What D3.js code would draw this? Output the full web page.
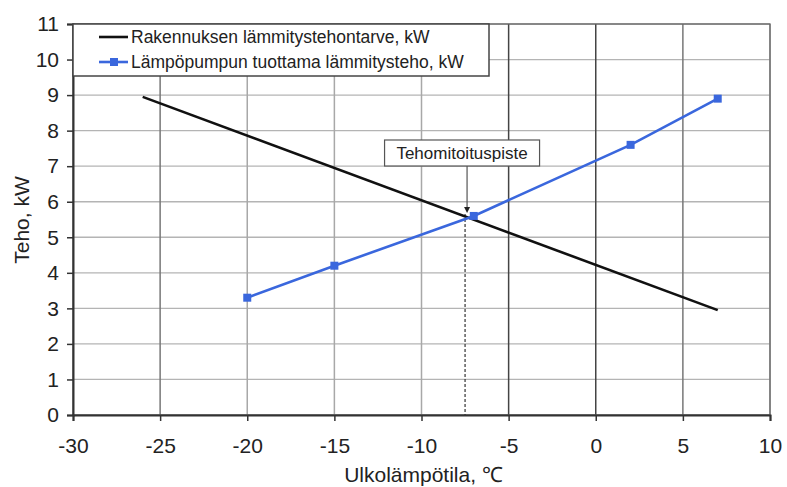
<!DOCTYPE html>
<html><head><meta charset="utf-8">
<script src="https://cdn.jsdelivr.net/npm/d3@7"></script>
<style>
body{margin:0;background:#fff;}
svg{display:block;font-family:"Liberation Sans",Arial,sans-serif;}
</style></head>
<body><svg id="c" width="787" height="487"></svg>
<script>
// Data
const demandTemps = [-26, 7];
const demandValues = [8.95, 2.95];
const pumpTemps = [-20, -15, -7, 2, 7];
const pumpValues = [3.3, 4.2, 5.6, 7.6, 8.9];
const xTicks = [-30, -25, -20, -15, -10, -5, 0, 5, 10];
const yTicks = [0, 1, 2, 3, 4, 5, 6, 7, 8, 9, 10, 11];
const seriesNames = ["Rakennuksen lämmitystehontarve, kW", "Lämpöpumpun tuottama lämmitysteho, kW"];
const designPoint = {x: -7.5, y: 5.6, label: "Tehomitoituspiste"};
const xTitle = "Ulkolämpötila, ℃";
const yTitle = "Teho, kW";

const svg = d3.select("#c");
const L = 73, R = 770, T = 24, B = 415;
const x = d3.scaleLinear().domain([-30, 10]).range([L, R]);
const y = d3.scaleLinear().domain([0, 11]).range([B, T]);
const blue = "#3a67dd";

// grid
const g = svg.append("g");
g.selectAll(".hg").data(yTicks).join("line")
  .attr("x1", L).attr("x2", R).attr("y1", d => y(d)).attr("y2", d => y(d))
  .attr("stroke", "#b4b4b4").attr("stroke-width", 1.3);
g.selectAll(".vg").data(xTicks).join("line")
  .attr("x1", d => x(d)).attr("x2", d => x(d)).attr("y1", T).attr("y2", B)
  .attr("stroke", d => (d === -5 || d === 0) ? "#444" : (d === 5 || d === -25) ? "#777" : "#a8a8a8")
  .attr("stroke-width", 1.5);
// frame
svg.append("rect").attr("x", L).attr("y", T).attr("width", R - L).attr("height", B - T)
  .attr("fill", "none").attr("stroke", "#666").attr("stroke-width", 1.3);

// axes
const fmt = d => String(d);
const xAxis = d3.axisBottom(x).tickValues(xTicks).tickFormat(fmt).tickSize(6).tickPadding(17);
const xa = svg.append("g").attr("transform", `translate(0,${B})`).call(xAxis);
const yAxis = d3.axisLeft(y).tickValues(yTicks).tickFormat(fmt).tickSize(6).tickPadding(8);
const ya = svg.append("g").attr("transform", `translate(${L},0)`).call(yAxis);
[xa, ya].forEach(a => {
  a.select(".domain").attr("stroke", "#333").attr("stroke-width", 2);
  a.selectAll(".tick line").attr("stroke", "#333").attr("stroke-width", 1.5);
  a.selectAll(".tick text").attr("fill", "#222").style("font-size", "21px")
    .style("font-family", '"Liberation Sans",Arial,sans-serif');
});
xa.selectAll(".tick text").attr("dy", "0.71em");

// titles
svg.append("text").attr("x", (L + R) / 2 + 2).attr("y", 482).attr("text-anchor", "middle")
  .style("font-size", "21px").attr("fill", "#222").text(xTitle);
svg.append("text").attr("transform", "translate(29,220) rotate(-90)").attr("text-anchor", "middle")
  .style("font-size", "21px").attr("fill", "#222").text(yTitle);

// design point dotted line
svg.append("line").attr("x1", x(designPoint.x)).attr("x2", x(designPoint.x))
  .attr("y1", y(designPoint.y) - 2).attr("y2", B)
  .attr("stroke", "#333").attr("stroke-width", 1.2).attr("stroke-dasharray", "3,2");

// demand line
const line = d3.line().x(d => x(d[0])).y(d => y(d[1]));
svg.append("path").datum(demandTemps.map((t, i) => [t, demandValues[i]]))
  .attr("d", line).attr("fill", "none").attr("stroke", "#111").attr("stroke-width", 2.6);

// pump line
const pumpData = pumpTemps.map((t, i) => [t, pumpValues[i]]);
svg.append("path").datum(pumpData).attr("d", line).attr("fill", "none")
  .attr("stroke", blue).attr("stroke-width", 2.6);
svg.selectAll(".pm").data(pumpData).join("rect")
  .attr("x", d => x(d[0]) - 4).attr("y", d => y(d[1]) - 4).attr("width", 8).attr("height", 8)
  .attr("fill", blue);

// annotation
const ax = x(designPoint.x);
const boxW = 155, boxH = 26, boxY = 140;
svg.append("line").attr("x1", ax + 2).attr("x2", ax + 2).attr("y1", boxY + boxH).attr("y2", 208)
  .attr("stroke", "#555").attr("stroke-width", 1.2);
svg.append("path").attr("d", `M${ax - 1},207 L${ax + 5},207 L${ax + 2},213 Z`).attr("fill", "#222");
svg.append("rect").attr("x", ax + 2 - boxW / 2 - 5).attr("y", boxY).attr("width", boxW).attr("height", boxH)
  .attr("fill", "#fff").attr("stroke", "#555").attr("stroke-width", 1.2);
svg.append("text").attr("x", ax + 2 - 5).attr("y", boxY + 19).attr("text-anchor", "middle")
  .style("font-size", "17px").attr("fill", "#222").text(designPoint.label);

// legend
const lg = svg.append("g");
lg.append("rect").attr("x", L).attr("y", T).attr("width", 416).attr("height", 52)
  .attr("fill", "#fff").attr("stroke", "#444").attr("stroke-width", 1.5);
const rows = [37, 62];
seriesNames.forEach((name, i) => {
  lg.append("line").attr("x1", 99).attr("x2", 128).attr("y1", rows[i]).attr("y2", rows[i])
    .attr("stroke", i === 0 ? "#111" : blue).attr("stroke-width", 2.6);
  if (i === 1) lg.append("rect").attr("x", 110).attr("y", rows[i] - 4).attr("width", 8).attr("height", 8).attr("fill", blue);
  lg.append("text").attr("x", 131).attr("y", rows[i] + 6).style("font-size", "17.5px")
    .attr("fill", "#222").text(name);
});
</script></body></html>
